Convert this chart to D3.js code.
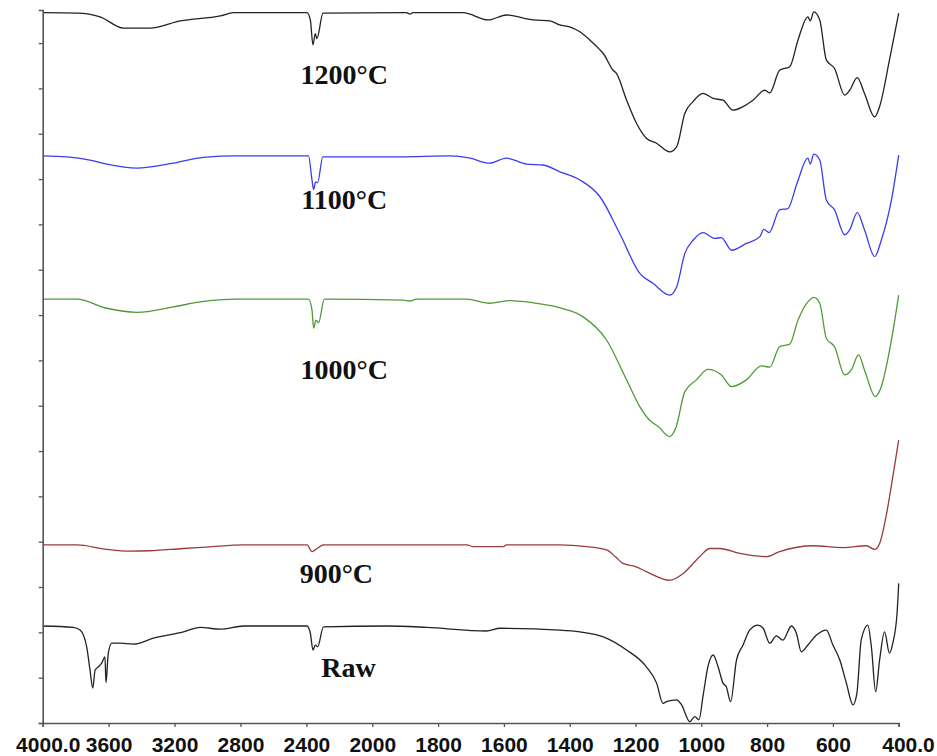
<!DOCTYPE html>
<html><head><meta charset="utf-8">
<script src="https://cdn.jsdelivr.net/npm/d3@7"></script>
<style>body{margin:0;background:#fff}svg{display:block}</style>
</head><body>
<svg id="chart" width="937" height="756"></svg>
<script>
// ---- data ----
const xTickValues = [4000,3600,3200,2800,2400,2000,1800,1600,1400,1200,1000,800,600,400];
const xTickLabels = ["4000.0","3600","3200","2800","2400","2000","1800","1600","1400","1200","1000","800","600","400.0"];
const yTickValues = [0,1,2,3,4,5,6,7,8,9,10,11,12,13,14,15];
const seriesNames = ["1200°C","1100°C","1000°C","900°C","Raw"];
const seriesColors = ["#222222","#3b3bf2","#4f9a36","#9a3a3a","#222222"];

const t1200 = [[3996,15.67],[3793,15.66],[3652,15.58],[3510,15.33],[3348,15.33],[3166,15.49],[2923,15.60],[2842,15.67],[2396,15.67],[2376,15.51],[2360,14.96],[2346,15.21],[2336,15.10],[2299,15.66],[1896,15.67],[1886,15.64],[1876,15.67],[1724,15.67],[1648,15.51],[1592,15.62],[1511,15.51],[1460,15.49],[1430,15.40],[1400,15.36],[1369,15.25],[1339,15.07],[1308,14.85],[1298,14.77],[1268,14.40],[1258,14.33],[1227,13.74],[1197,13.23],[1167,12.90],[1136,12.79],[1096,12.60],[1075,12.71],[1050,13.45],[1025,13.71],[995,13.89],[964,13.78],[934,13.74],[904,13.52],[873,13.60],[843,13.74],[807,13.96],[792,13.90],[762,14.40],[731,14.48],[706,15.07],[676,15.58],[669,15.49],[658,15.69],[640,15.51],[620,14.63],[595,14.44],[564,13.85],[549,13.96],[526,14.24],[504,13.89],[473,13.37],[458,13.60],[428,14.63],[400,15.66]];

const t1100 = [[3996,12.51],[3854,12.49],[3713,12.42],[3611,12.33],[3429,12.24],[3207,12.35],[3024,12.48],[2822,12.51],[2387,12.51],[2366,11.98],[2356,11.77],[2344,11.94],[2332,11.92],[2300,12.49],[1916,12.49],[1764,12.51],[1703,12.46],[1643,12.35],[1592,12.46],[1531,12.33],[1481,12.31],[1430,12.16],[1369,11.98],[1308,11.61],[1248,10.80],[1187,9.92],[1147,9.70],[1096,9.44],[1075,9.62],[1050,10.36],[1025,10.65],[995,10.82],[959,10.69],[939,10.71],[908,10.43],[863,10.58],[822,10.73],[810,10.89],[794,10.82],[762,11.32],[737,11.35],[709,11.91],[676,12.46],[669,12.33],[658,12.55],[640,12.42],[620,11.54],[595,11.32],[564,10.77],[549,10.88],[526,11.26],[504,10.88],[473,10.29],[453,10.65],[422,11.54],[400,12.53]];

const t1000 = [[3996,9.35],[3793,9.35],[3611,9.15],[3429,9.06],[3207,9.18],[3045,9.29],[2822,9.35],[2387,9.35],[2366,9.11],[2356,8.71],[2342,8.89],[2326,8.83],[2291,9.35],[1906,9.33],[1886,9.31],[1865,9.35],[1713,9.35],[1644,9.26],[1582,9.32],[1511,9.27],[1440,9.18],[1359,8.96],[1288,8.45],[1227,7.57],[1187,6.98],[1157,6.68],[1131,6.54],[1096,6.32],[1078,6.50],[1050,7.31],[1015,7.57],[980,7.80],[939,7.68],[908,7.42],[863,7.57],[817,7.88],[792,7.85],[762,8.30],[731,8.36],[706,8.89],[676,9.29],[658,9.39],[640,9.26],[620,8.49],[595,8.30],[564,7.68],[544,7.79],[522,8.12],[504,7.79],[471,7.20],[453,7.42],[422,8.45],[400,9.44]];

const t900 = [[4000,3.93],[3793,3.93],[3611,3.83],[3470,3.79],[3348,3.80],[3146,3.85],[3004,3.88],[2781,3.93],[2396,3.93],[2366,3.78],[2346,3.82],[2296,3.93],[1713,3.93],[1693,3.89],[1602,3.89],[1592,3.93],[1430,3.93],[1349,3.89],[1288,3.82],[1260,3.66],[1238,3.52],[1200,3.45],[1167,3.34],[1096,3.15],[1055,3.30],[1005,3.67],[974,3.85],[944,3.85],[883,3.74],[802,3.67],[762,3.78],[661,3.91],[569,3.87],[498,3.91],[473,3.83],[458,3.96],[433,4.77],[418,5.43],[400,6.24]];

const tRaw = [[4000,2.14],[3814,2.11],[3773,2.05],[3733,1.68],[3713,1.17],[3696,0.77],[3682,1.17],[3662,1.24],[3642,1.32],[3622,1.46],[3616,0.89],[3602,1.54],[3581,1.76],[3530,1.76],[3450,1.74],[3328,1.87],[3146,2.01],[3045,2.11],[2923,2.07],[2781,2.14],[2396,2.14],[2376,1.98],[2360,1.61],[2346,1.72],[2332,1.68],[2296,2.12],[1956,2.14],[1835,2.11],[1653,2.03],[1612,2.09],[1430,2.05],[1369,2.01],[1298,1.90],[1227,1.61],[1167,1.24],[1136,0.88],[1116,0.43],[1106,0.47],[1075,0.51],[1060,0.40],[1035,0.03],[1020,0.14],[1007,0.07],[995,0.58],[980,1.24],[964,1.50],[949,1.24],[934,0.88],[924,0.80],[911,0.47],[893,1.39],[873,1.72],[853,2.05],[828,2.16],[812,2.09],[792,1.76],[772,1.92],[752,1.83],[726,2.14],[711,1.98],[696,1.57],[676,1.72],[650,1.94],[620,2.05],[600,1.72],[579,1.39],[559,0.88],[539,0.40],[527,0.66],[514,1.83],[494,2.16],[483,1.68],[470,0.69],[458,1.39],[443,2.01],[428,1.54],[418,1.76],[405,2.42],[400,3.08]];

const seriesData = [t1200, t1100, t1000, t900, tRaw];
// label anchors in data units (wavenumber, value)
const labelWn = [2170, 2170, 2170, 2218, 2145];
const labelVal = [14.10, 11.34, 7.59, 3.09, 1.01];

// ---- drawing ----
const svg = d3.select("#chart");
const x = d3.scaleLinear().domain([4000, 2000, 400]).range([42.7, 372.3, 898.7]);
const y = d3.scaleLinear().domain([0, 15.73]).range([723, 10]);

const line = d3.line().x(d => x(d[0])).y(d => y(d[1])).curve(d3.curveMonotoneX);

seriesData.forEach((s, i) => {
  svg.append("path").datum(s)
    .attr("fill", "none")
    .attr("stroke", seriesColors[i])
    .attr("stroke-width", 1.3)
    .attr("stroke-linejoin", "round")
    .attr("d", line);
});

// axes
const xAxis = d3.axisBottom(x).tickValues(xTickValues).tickSize(4)
  .tickFormat((d, i) => xTickLabels[i]);
const gx = svg.append("g").attr("transform", "translate(0,723)").call(xAxis);
gx.select(".domain").attr("stroke", "#555").attr("stroke-width", 1.6);
gx.selectAll(".tick line").attr("stroke", "#555").attr("stroke-width", 1.3);
gx.selectAll(".tick text")
  .attr("font-family", "'Liberation Sans', Arial, sans-serif")
  .attr("font-weight", "bold").attr("font-size", 21).attr("fill", "#111")
  .attr("dy", null).attr("y", 29);
gx.selectAll(".tick text").filter((d, i) => i === 0).attr("dx", 5);
gx.selectAll(".tick text").filter((d, i) => i === xTickValues.length - 1)
  .attr("text-anchor", "start").attr("dx", -17);

const yAxis = d3.axisLeft(y).tickValues(yTickValues).tickSize(4).tickFormat("");
const gy = svg.append("g").attr("transform", "translate(42.7,0)").call(yAxis);
gy.select(".domain").attr("stroke", "#555").attr("stroke-width", 1.6);
gy.selectAll(".tick line").attr("stroke", "#555").attr("stroke-width", 1.3);

// series labels
seriesNames.forEach((n, i) => {
  svg.append("text")
    .attr("x", x(labelWn[i])).attr("y", y(labelVal[i]))
    .attr("text-anchor", "middle")
    .attr("font-family", "'Liberation Serif', 'Times New Roman', serif")
    .attr("font-weight", "bold").attr("font-size", 28).attr("fill", "#111")
    .text(n);
});
</script>
</body></html>
